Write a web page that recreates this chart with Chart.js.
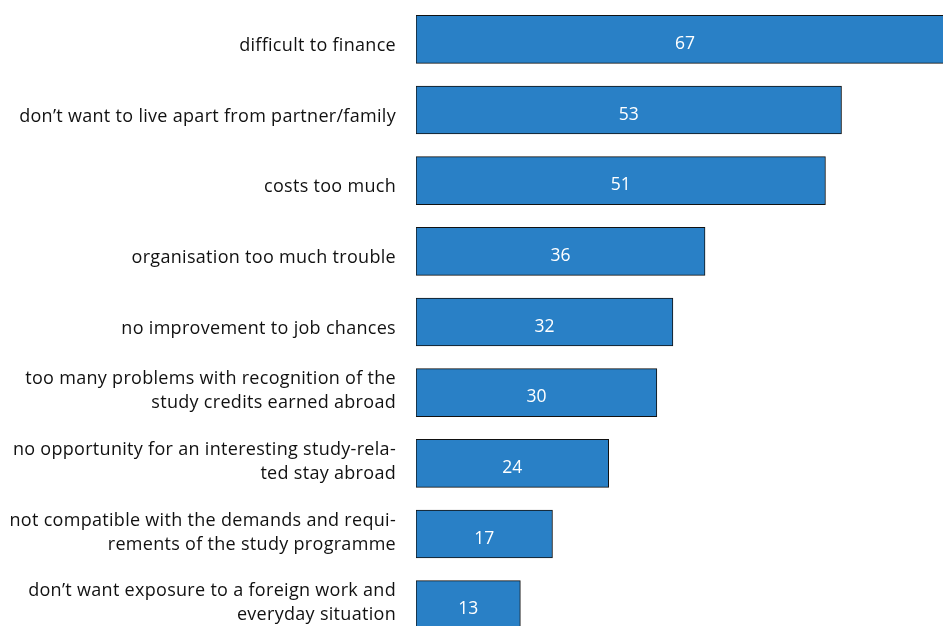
<!DOCTYPE html>
<html>
<head>
<meta charset="utf-8">
<script src="https://cdn.jsdelivr.net/npm/chart.js@4/dist/chart.umd.min.js"></script>
<style>
  html, body { margin: 0; padding: 0; background: #ffffff; overflow: hidden; }
  #wrap { position: absolute; left: 0; top: 0; width: 978px; height: 640px; }
</style>
</head>
<body>
<div id="wrap"><canvas id="c" width="978" height="640"></canvas></div>
<script>
// Reasons for not going abroad (percent)
const reasons = [
  ["difficult to finance"],
  ["don\u2019t want to live apart from partner/family"],
  ["costs too much"],
  ["organisation too much trouble"],
  ["no improvement to job chances"],
  ["too many problems with recognition of the", "study credits earned abroad"],
  ["no opportunity for an interesting study-rela-", "ted stay abroad"],
  ["not compatible with the demands and requi-", "rements of the study programme"],
  ["don\u2019t want exposure to a foreign work and", "everyday situation"]
];
const shares = [67, 53, 51, 36, 32, 30, 24, 17, 13];

const FONT = "'Open Sans', sans-serif";

// Category names, right-aligned against the bars
const categoryLabels = {
  id: 'categoryLabels',
  afterDraw(chart) {
    const ctx = chart.ctx;
    const ys = chart.scales.y;
    const right = chart.chartArea.left - 20;
    ctx.save();
    ctx.fillStyle = '#111111';
    ctx.font = '18px ' + FONT;
    ctx.letterSpacing = '0.3px';
    ctx.textAlign = 'right';
    ctx.textBaseline = 'alphabetic';
    chart.data.labels.forEach((lines, i) => {
      const cy = ys.getPixelForValue(i);
      if (lines.length === 1) {
        ctx.fillText(lines[0], right, cy + 11.5);
      } else {
        ctx.fillText(lines[0], right, cy - 8.2);
        ctx.fillText(lines[1], right, cy + 15.8);
      }
    });
    ctx.restore();
  }
};

// Writes each value in the middle of its bar
const valueLabels = {
  id: 'valueLabels',
  afterDatasetsDraw(chart) {
    const ctx = chart.ctx;
    const meta = chart.getDatasetMeta(0);
    const xs = chart.scales.x;
    ctx.save();
    ctx.fillStyle = '#ffffff';
    ctx.font = '17.5px ' + FONT;
    ctx.textAlign = 'center';
    ctx.textBaseline = 'alphabetic';
    meta.data.forEach((bar, i) => {
      const v = shares[i];
      const cx = (xs.getPixelForValue(0) + xs.getPixelForValue(v)) / 2;
      ctx.fillText(String(v), cx, bar.y + 9.5);
    });
    ctx.restore();
  }
};

new Chart(document.getElementById('c'), {
  type: 'bar',
  data: {
    labels: reasons,
    datasets: [{
      data: shares,
      backgroundColor: '#2980C6',
      borderColor: '#111111',
      borderWidth: 1,
      borderSkipped: false,
      barThickness: 48,
      categoryPercentage: 1,
      barPercentage: 1
    }]
  },
  options: {
    indexAxis: 'y',
    responsive: false,
    animation: false,
    layout: { padding: { top: 4, right: 0, bottom: 0, left: 0 } },
    plugins: {
      legend: { display: false },
      tooltip: { enabled: false }
    },
    scales: {
      x: {
        display: false,
        min: 0,
        max: 70
      },
      y: {
        grid: { display: false, drawTicks: false },
        border: { display: false },
        ticks: { display: false },
        afterFit(scale) {
          scale.width = 416;
          scale.paddingTop = 0;
          scale.paddingBottom = 0;
        }
      }
    }
  },
  plugins: [valueLabels, categoryLabels]
});
</script>
</body>
</html>
